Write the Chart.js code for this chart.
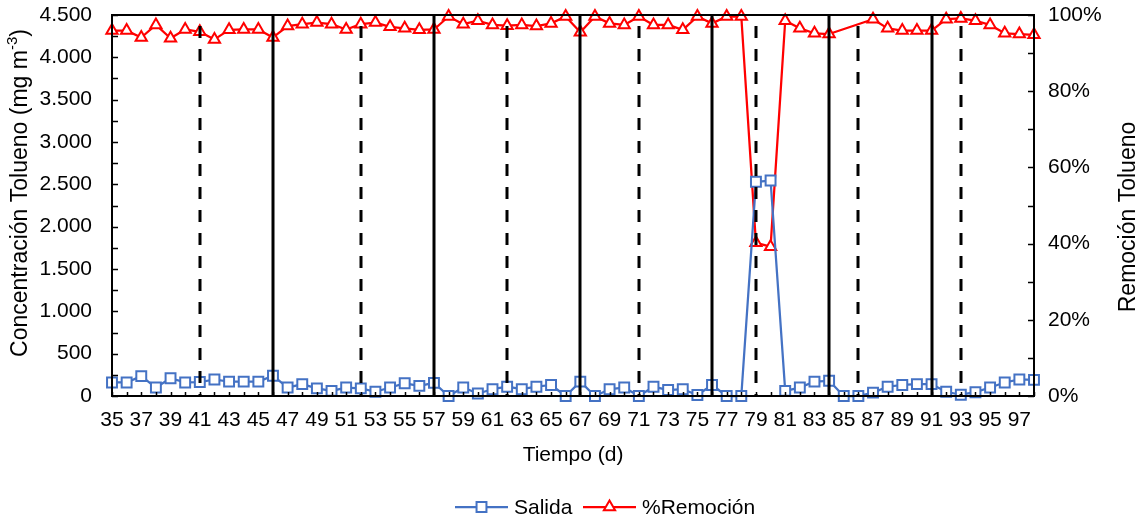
<!DOCTYPE html>
<html>
<head>
<meta charset="utf-8">
<script src="https://cdn.jsdelivr.net/npm/chart.js@4.4.0/dist/chart.umd.min.js"></script>
<style>
  html, body { margin: 0; padding: 0; background: #fff; }
</style>
</head>
<body>
<canvas id="grafica" width="1143" height="520"></canvas>
<script>
const dias = [35, 36, 37, 38, 39, 40, 41, 42, 43, 44, 45, 46, 47, 48, 49, 50,
  51, 52, 53, 54, 55, 56, 57, 58, 59, 60, 61, 62, 63, 64, 65, 66,
  67, 68, 69, 70, 71, 72, 73, 74, 75, 76, 77, 78, 79, 80, 81, 82,
  83, 84, 85, 86, 87, 88, 89, 90, 91, 92, 93, 94, 95, 96, 97, 98];

// concentración de salida (mg m-3)
const salida = [160, 160, 235, 100, 210, 160, 165, 195, 170, 170, 170, 240, 100, 140, 90, 60,
  100, 90, 50, 100, 150, 120, 155, 0, 100, 30, 80, 110, 80, 110, 130, 0,
  170, 0, 80, 100, 0, 110, 70, 80, 12, 130, 0, 0, 2530, 2545, 60, 100,
  170, 180, 0, 0, 40, 110, 130, 140, 140, 50, 15, 45, 100, 160, 195, 190];

// % de remoción (sin dato los días 85 y 86)
const remocion = [95.9, 95.9, 94.1, 97.4, 93.9, 96.2, 95.6, 93.6, 96.1, 96.2, 96.2, 94.1, 97.1, 97.6, 98.0, 97.6,
  96.2, 97.6, 98.0, 96.9, 96.5, 96.1, 96.2, 99.6, 97.6, 98.5, 97.4, 97.2, 97.4, 97.1, 97.8, 99.6,
  95.5, 99.6, 97.8, 97.4, 99.6, 97.4, 97.4, 96.1, 99.6, 97.8, 99.6, 99.6, 40.2, 39.2, 98.5, 96.5,
  95.2, 95.0, null, null, 98.9, 96.5, 95.9, 95.9, 95.9, 98.9, 99.1, 98.5, 97.4, 95.2, 95.0, 94.8];

// días marcados con línea continua y con línea discontinua
const lineasContinuas = [46, 57, 67, 76, 84, 91];
const lineasDiscontinuas = [41, 52, 62, 71, 79, 86, 93];

const fuente = '"Liberation Sans", Arial, sans-serif';
const tamFuente = 21;
const tamTitulo = 23;
const azul = '#4472C4';
const rojo = '#FF0000';

function miles(v) {
  return String(v).replace(/\B(?=(\d{3})+(?!\d))/g, '.');
}

function marcador(ctx, estilo, radio, color, x, y) {
  ctx.save();
  ctx.fillStyle = '#fff';
  ctx.strokeStyle = color;
  ctx.lineWidth = 2;
  Chart.helpers.drawPoint(ctx, { pointStyle: estilo, radius: radio, borderWidth: 2, rotation: 0 }, x, y);
  ctx.restore();
}

// los ejes no reservan espacio extra para medias etiquetas
function sinRelleno(s) {
  s.paddingTop = 0;
  s.paddingBottom = 0;
  s.paddingLeft = 0;
  s.paddingRight = 0;
}

const extras = {
  id: 'extras',
  afterDatasetsDraw(chart) {
    const { ctx, chartArea: a, scales } = chart;
    const x = scales.x;
    ctx.save();
    ctx.strokeStyle = '#000';
    ctx.lineWidth = 3;
    lineasContinuas.forEach(d => {
      const px = Math.round(x.getPixelForValue(dias.indexOf(d)));
      ctx.beginPath();
      ctx.moveTo(px, a.top);
      ctx.lineTo(px, a.bottom);
      ctx.stroke();
    });
    ctx.setLineDash([12, 11]);
    lineasDiscontinuas.forEach(d => {
      const px = Math.round(x.getPixelForValue(dias.indexOf(d)));
      ctx.beginPath();
      ctx.moveTo(px, a.top + 11);
      ctx.lineTo(px, a.bottom);
      ctx.stroke();
    });
    ctx.restore();
  },
  afterDraw(chart) {
    const { ctx, chartArea: a, scales } = chart;
    ctx.save();

    // marco y marcas interiores de los ejes
    ctx.strokeStyle = '#000';
    ctx.lineWidth = 2;
    ctx.strokeRect(a.left, a.top, a.right - a.left, a.bottom - a.top);
    ctx.lineWidth = 1.5;
    ctx.beginPath();
    for (let v = 0; v <= 4500; v += 250) {
      const py = Math.round(scales.y.getPixelForValue(v)) + 0.5;
      ctx.moveTo(a.left, py);
      ctx.lineTo(a.left + 6, py);
    }
    for (let v = 0; v <= 100; v += 10) {
      const py = Math.round(scales.y1.getPixelForValue(v)) + 0.5;
      ctx.moveTo(a.right, py);
      ctx.lineTo(a.right - 6, py);
    }
    dias.forEach((d, i) => {
      const px = Math.round(scales.x.getPixelForValue(i)) + 0.5;
      ctx.moveTo(px, a.bottom);
      ctx.lineTo(px, a.bottom - 4);
    });
    ctx.stroke();

    // títulos de los ejes
    ctx.fillStyle = '#000';
    ctx.textBaseline = 'middle';
    ctx.font = tamFuente + 'px ' + fuente;
    ctx.textAlign = 'center';
    ctx.fillText('Tiempo (d)', (a.left + a.right) / 2, 455);

    ctx.save();
    ctx.translate(21, 193);
    ctx.rotate(-Math.PI / 2);
    const t1 = 'Concentración Tolueno (mg m';
    const sup = '-3';
    const t2 = ')';
    const fSup = Math.round(tamTitulo * 0.65) + 'px ' + fuente;
    const fTit = tamTitulo + 'px ' + fuente;
    ctx.font = fTit;
    const w1 = ctx.measureText(t1).width;
    const w3 = ctx.measureText(t2).width;
    ctx.font = fSup;
    const w2 = ctx.measureText(sup).width;
    const xi = -(w1 + w2 + w3) / 2;
    ctx.textAlign = 'left';
    ctx.font = fTit;
    ctx.fillText(t1, xi, 0);
    ctx.font = fSup;
    ctx.fillText(sup, xi + w1, -8);
    ctx.font = fTit;
    ctx.fillText(t2, xi + w1 + w2, 0);
    ctx.restore();

    ctx.save();
    ctx.translate(1129, 217);
    ctx.rotate(-Math.PI / 2);
    ctx.textAlign = 'center';
    ctx.font = tamTitulo + 'px ' + fuente;
    ctx.fillText('Remoción Tolueno', 0, 0);
    ctx.restore();

    // leyenda
    const yl = 507;
    const items = [
      { texto: chart.data.datasets[0].label, color: azul, estilo: 'rect', radio: 7, x0: 455 },
      { texto: chart.data.datasets[1].label, color: rojo, estilo: 'triangle', radio: 6.5, x0: 583 }
    ];
    items.forEach(it => {
      ctx.strokeStyle = it.color;
      ctx.lineWidth = 2.25;
      ctx.beginPath();
      ctx.moveTo(it.x0, yl);
      ctx.lineTo(it.x0 + 53, yl);
      ctx.stroke();
      marcador(ctx, it.estilo, it.radio, it.color, it.x0 + 26.5, yl);
      ctx.fillStyle = '#000';
      ctx.textAlign = 'left';
      ctx.font = tamFuente + 'px ' + fuente;
      ctx.fillText(it.texto, it.x0 + 59, yl + 1);
    });
    ctx.restore();
  }
};

const ctx = document.getElementById('grafica').getContext('2d');

new Chart(ctx, {
  type: 'line',
  data: {
    labels: dias,
    datasets: [{
      label: 'Salida',
      data: salida,
      yAxisID: 'y',
      borderColor: azul,
      backgroundColor: '#fff',
      borderWidth: 2.25,
      borderJoinStyle: 'round',
      pointStyle: 'rect',
      pointRadius: 7,
      pointBorderWidth: 2,
      pointBackgroundColor: '#fff',
      pointBorderColor: azul,
      tension: 0,
      clip: false
    }, {
      label: '%Remoción',
      data: remocion,
      yAxisID: 'y1',
      borderColor: rojo,
      backgroundColor: '#fff',
      borderWidth: 2.25,
      borderJoinStyle: 'round',
      pointStyle: 'triangle',
      pointRadius: 6.5,
      pointBorderWidth: 2,
      pointBackgroundColor: '#fff',
      pointBorderColor: rojo,
      spanGaps: true,
      tension: 0,
      clip: false
    }]
  },
  options: {
    responsive: false,
    animation: false,
    layout: { padding: { top: 15, left: 0, right: 0, bottom: 0 } },
    plugins: {
      legend: { display: false },
      tooltip: { enabled: false }
    },
    scales: {
      x: {
        type: 'category',
        grid: { display: false, drawTicks: false },
        border: { display: false },
        ticks: {
          autoSkip: false,
          maxRotation: 0,
          minRotation: 0,
          padding: 12,
          color: '#000',
          font: { family: fuente, size: tamFuente },
          callback: function (v, i) {
            return dias[i] % 2 ? String(dias[i]) : '';
          }
        },
        afterFit: s => { s.height = 124; sinRelleno(s); }
      },
      y: {
        position: 'left',
        min: 0,
        max: 4500,
        grid: { display: false, drawTicks: false },
        border: { display: false },
        ticks: {
          stepSize: 500,
          padding: 20,
          color: '#000',
          font: { family: fuente, size: tamFuente },
          callback: v => miles(v)
        },
        afterFit: s => { s.width = 112; sinRelleno(s); }
      },
      y1: {
        position: 'right',
        min: 0,
        max: 100,
        grid: { display: false, drawTicks: false },
        border: { display: false },
        ticks: {
          stepSize: 20,
          padding: 14,
          color: '#000',
          font: { family: fuente, size: tamFuente },
          callback: v => v + '%'
        },
        afterFit: s => { s.width = 109; sinRelleno(s); }
      }
    }
  },
  plugins: [extras]
});
</script>
</body>
</html>
